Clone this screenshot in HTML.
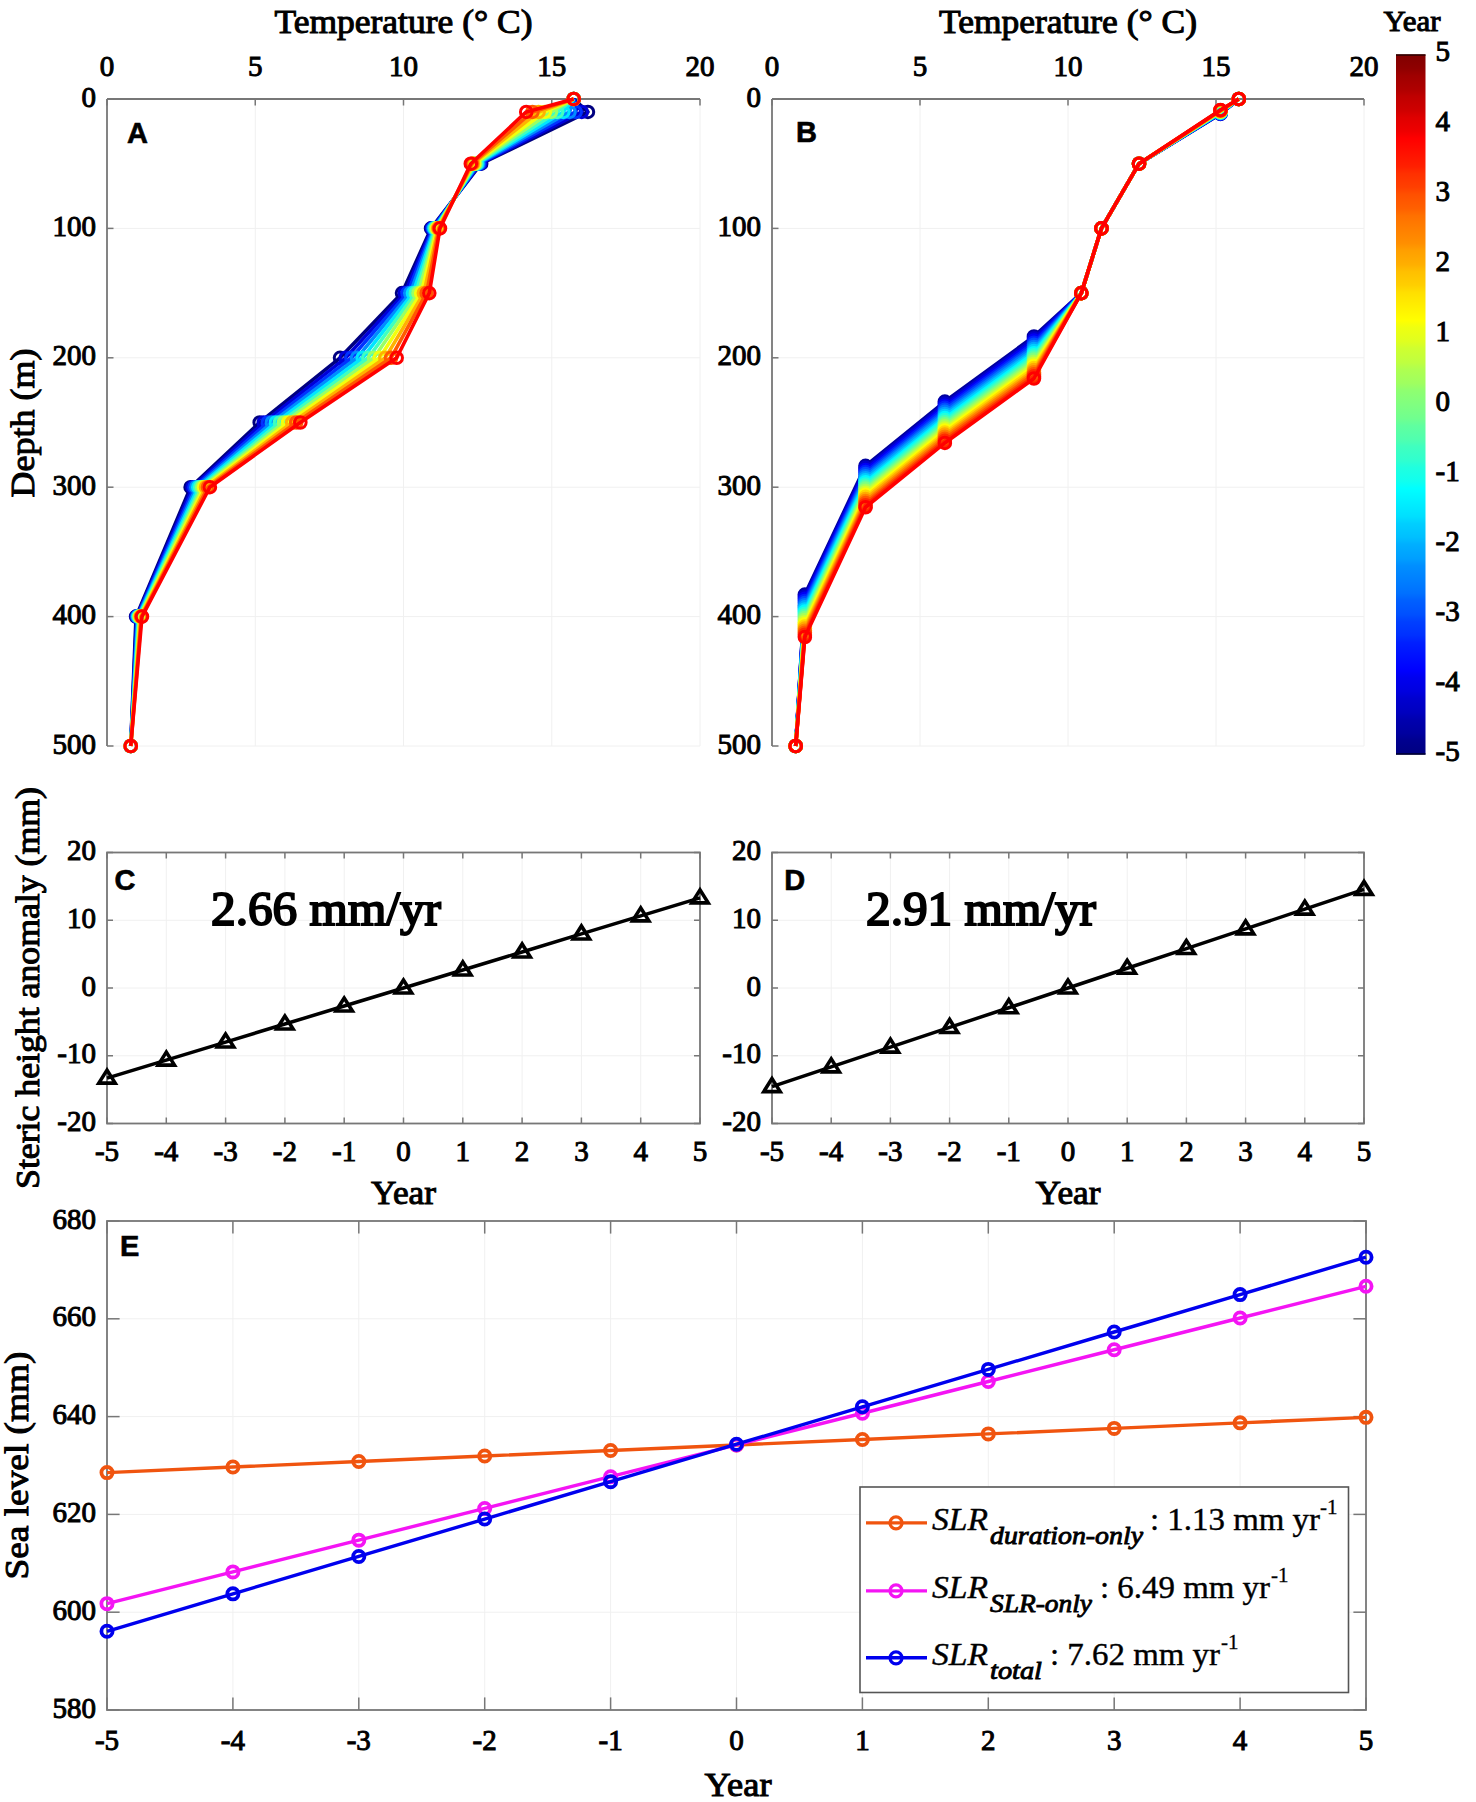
<!DOCTYPE html><html><head><meta charset="utf-8"><style>html,body{margin:0;padding:0;background:#fff;overflow:hidden}svg{display:block}</style></head><body>
<svg width="1476" height="1802" viewBox="0 0 1476 1802">
<rect width="1476" height="1802" fill="#fff"/>
<line x1="255.25" y1="99" x2="255.25" y2="746" stroke="#f0f0f0" stroke-width="1"/>
<line x1="403.5" y1="99" x2="403.5" y2="746" stroke="#f0f0f0" stroke-width="1"/>
<line x1="551.75" y1="99" x2="551.75" y2="746" stroke="#f0f0f0" stroke-width="1"/>
<line x1="700" y1="99" x2="700" y2="746" stroke="#f0f0f0" stroke-width="1"/>
<line x1="107" y1="228.4" x2="700" y2="228.4" stroke="#f0f0f0" stroke-width="1"/>
<line x1="107" y1="357.8" x2="700" y2="357.8" stroke="#f0f0f0" stroke-width="1"/>
<line x1="107" y1="487.2" x2="700" y2="487.2" stroke="#f0f0f0" stroke-width="1"/>
<line x1="107" y1="616.6" x2="700" y2="616.6" stroke="#f0f0f0" stroke-width="1"/>
<line x1="107" y1="746" x2="700" y2="746" stroke="#f0f0f0" stroke-width="1"/>
<line x1="107" y1="99" x2="700" y2="99" stroke="#777777" stroke-width="1.8"/>
<line x1="107" y1="99" x2="107" y2="746" stroke="#777777" stroke-width="1.8"/>
<line x1="107" y1="99" x2="107" y2="105.5" stroke="#777777" stroke-width="1.5"/>
<text x="107" y="75.5" font-size="29" text-anchor="middle" font-weight="normal" font-family='"Liberation Serif", serif' stroke="#000" stroke-width="1">0</text>
<line x1="255.25" y1="99" x2="255.25" y2="105.5" stroke="#777777" stroke-width="1.5"/>
<text x="255.25" y="75.5" font-size="29" text-anchor="middle" font-weight="normal" font-family='"Liberation Serif", serif' stroke="#000" stroke-width="1">5</text>
<line x1="403.5" y1="99" x2="403.5" y2="105.5" stroke="#777777" stroke-width="1.5"/>
<text x="403.5" y="75.5" font-size="29" text-anchor="middle" font-weight="normal" font-family='"Liberation Serif", serif' stroke="#000" stroke-width="1">10</text>
<line x1="551.75" y1="99" x2="551.75" y2="105.5" stroke="#777777" stroke-width="1.5"/>
<text x="551.75" y="75.5" font-size="29" text-anchor="middle" font-weight="normal" font-family='"Liberation Serif", serif' stroke="#000" stroke-width="1">15</text>
<line x1="700" y1="99" x2="700" y2="105.5" stroke="#777777" stroke-width="1.5"/>
<text x="700" y="75.5" font-size="29" text-anchor="middle" font-weight="normal" font-family='"Liberation Serif", serif' stroke="#000" stroke-width="1">20</text>
<line x1="107" y1="99" x2="113.5" y2="99" stroke="#777777" stroke-width="1.5"/>
<text x="96" y="106.5" font-size="29" text-anchor="end" font-weight="normal" font-family='"Liberation Serif", serif' stroke="#000" stroke-width="1">0</text>
<line x1="107" y1="228.4" x2="113.5" y2="228.4" stroke="#777777" stroke-width="1.5"/>
<text x="96" y="235.9" font-size="29" text-anchor="end" font-weight="normal" font-family='"Liberation Serif", serif' stroke="#000" stroke-width="1">100</text>
<line x1="107" y1="357.8" x2="113.5" y2="357.8" stroke="#777777" stroke-width="1.5"/>
<text x="96" y="365.3" font-size="29" text-anchor="end" font-weight="normal" font-family='"Liberation Serif", serif' stroke="#000" stroke-width="1">200</text>
<line x1="107" y1="487.2" x2="113.5" y2="487.2" stroke="#777777" stroke-width="1.5"/>
<text x="96" y="494.7" font-size="29" text-anchor="end" font-weight="normal" font-family='"Liberation Serif", serif' stroke="#000" stroke-width="1">300</text>
<line x1="107" y1="616.6" x2="113.5" y2="616.6" stroke="#777777" stroke-width="1.5"/>
<text x="96" y="624.1" font-size="29" text-anchor="end" font-weight="normal" font-family='"Liberation Serif", serif' stroke="#000" stroke-width="1">400</text>
<line x1="107" y1="746" x2="113.5" y2="746" stroke="#777777" stroke-width="1.5"/>
<text x="96" y="753.5" font-size="29" text-anchor="end" font-weight="normal" font-family='"Liberation Serif", serif' stroke="#000" stroke-width="1">500</text>
<g stroke="#000080" fill="none"><polyline points="573.69,99 587.92,111.94 481.18,163.7 431.07,228.4 402.02,293.1 340.05,357.8 259.7,422.5 190.61,487.2 136.06,616.6 130.72,746" stroke-width="3.6" stroke-linejoin="round"/>
<circle cx="573.69" cy="99" r="5.8" stroke-width="3"/>
<circle cx="587.92" cy="111.94" r="5.8" stroke-width="3"/>
<circle cx="481.18" cy="163.7" r="5.8" stroke-width="3"/>
<circle cx="431.07" cy="228.4" r="5.8" stroke-width="3"/>
<circle cx="402.02" cy="293.1" r="5.8" stroke-width="3"/>
<circle cx="340.05" cy="357.8" r="5.8" stroke-width="3"/>
<circle cx="259.7" cy="422.5" r="5.8" stroke-width="3"/>
<circle cx="190.61" cy="487.2" r="5.8" stroke-width="3"/>
<circle cx="136.06" cy="616.6" r="5.8" stroke-width="3"/>
<circle cx="130.72" cy="746" r="5.8" stroke-width="3"/>
</g>
<g stroke="#0000d9" fill="none"><polyline points="573.69,99 581.76,111.94 480.15,163.7 431.96,228.4 404.75,293.1 345.71,357.8 263.76,422.5 192.54,487.2 136.65,616.6 130.72,746" stroke-width="3.6" stroke-linejoin="round"/>
<circle cx="573.69" cy="99" r="5.8" stroke-width="3"/>
<circle cx="581.76" cy="111.94" r="5.8" stroke-width="3"/>
<circle cx="480.15" cy="163.7" r="5.8" stroke-width="3"/>
<circle cx="431.96" cy="228.4" r="5.8" stroke-width="3"/>
<circle cx="404.75" cy="293.1" r="5.8" stroke-width="3"/>
<circle cx="345.71" cy="357.8" r="5.8" stroke-width="3"/>
<circle cx="263.76" cy="422.5" r="5.8" stroke-width="3"/>
<circle cx="192.54" cy="487.2" r="5.8" stroke-width="3"/>
<circle cx="136.65" cy="616.6" r="5.8" stroke-width="3"/>
<circle cx="130.72" cy="746" r="5.8" stroke-width="3"/>
</g>
<g stroke="#0033ff" fill="none"><polyline points="573.69,99 575.59,111.94 479.11,163.7 432.85,228.4 407.47,293.1 351.38,357.8 267.82,422.5 194.47,487.2 137.24,616.6 130.72,746" stroke-width="3.6" stroke-linejoin="round"/>
<circle cx="573.69" cy="99" r="5.8" stroke-width="3"/>
<circle cx="575.59" cy="111.94" r="5.8" stroke-width="3"/>
<circle cx="479.11" cy="163.7" r="5.8" stroke-width="3"/>
<circle cx="432.85" cy="228.4" r="5.8" stroke-width="3"/>
<circle cx="407.47" cy="293.1" r="5.8" stroke-width="3"/>
<circle cx="351.38" cy="357.8" r="5.8" stroke-width="3"/>
<circle cx="267.82" cy="422.5" r="5.8" stroke-width="3"/>
<circle cx="194.47" cy="487.2" r="5.8" stroke-width="3"/>
<circle cx="137.24" cy="616.6" r="5.8" stroke-width="3"/>
<circle cx="130.72" cy="746" r="5.8" stroke-width="3"/>
</g>
<g stroke="#008cff" fill="none"><polyline points="573.69,99 569.42,111.94 478.07,163.7 433.74,228.4 410.2,293.1 357.04,357.8 271.88,422.5 196.39,487.2 137.84,616.6 130.72,746" stroke-width="3.6" stroke-linejoin="round"/>
<circle cx="573.69" cy="99" r="5.8" stroke-width="3"/>
<circle cx="569.42" cy="111.94" r="5.8" stroke-width="3"/>
<circle cx="478.07" cy="163.7" r="5.8" stroke-width="3"/>
<circle cx="433.74" cy="228.4" r="5.8" stroke-width="3"/>
<circle cx="410.2" cy="293.1" r="5.8" stroke-width="3"/>
<circle cx="357.04" cy="357.8" r="5.8" stroke-width="3"/>
<circle cx="271.88" cy="422.5" r="5.8" stroke-width="3"/>
<circle cx="196.39" cy="487.2" r="5.8" stroke-width="3"/>
<circle cx="137.84" cy="616.6" r="5.8" stroke-width="3"/>
<circle cx="130.72" cy="746" r="5.8" stroke-width="3"/>
</g>
<g stroke="#00e6ff" fill="none"><polyline points="573.69,99 563.25,111.94 477.03,163.7 434.63,228.4 412.93,293.1 362.7,357.8 275.95,422.5 198.32,487.2 138.43,616.6 130.72,746" stroke-width="3.6" stroke-linejoin="round"/>
<circle cx="573.69" cy="99" r="5.8" stroke-width="3"/>
<circle cx="563.25" cy="111.94" r="5.8" stroke-width="3"/>
<circle cx="477.03" cy="163.7" r="5.8" stroke-width="3"/>
<circle cx="434.63" cy="228.4" r="5.8" stroke-width="3"/>
<circle cx="412.93" cy="293.1" r="5.8" stroke-width="3"/>
<circle cx="362.7" cy="357.8" r="5.8" stroke-width="3"/>
<circle cx="275.95" cy="422.5" r="5.8" stroke-width="3"/>
<circle cx="198.32" cy="487.2" r="5.8" stroke-width="3"/>
<circle cx="138.43" cy="616.6" r="5.8" stroke-width="3"/>
<circle cx="130.72" cy="746" r="5.8" stroke-width="3"/>
</g>
<g stroke="#40ffbf" fill="none"><polyline points="573.69,99 557.09,111.94 475.99,163.7 435.52,228.4 415.66,293.1 368.36,357.8 280.01,422.5 200.25,487.2 139.02,616.6 130.72,746" stroke-width="3.6" stroke-linejoin="round"/>
<circle cx="573.69" cy="99" r="5.8" stroke-width="3"/>
<circle cx="557.09" cy="111.94" r="5.8" stroke-width="3"/>
<circle cx="475.99" cy="163.7" r="5.8" stroke-width="3"/>
<circle cx="435.52" cy="228.4" r="5.8" stroke-width="3"/>
<circle cx="415.66" cy="293.1" r="5.8" stroke-width="3"/>
<circle cx="368.36" cy="357.8" r="5.8" stroke-width="3"/>
<circle cx="280.01" cy="422.5" r="5.8" stroke-width="3"/>
<circle cx="200.25" cy="487.2" r="5.8" stroke-width="3"/>
<circle cx="139.02" cy="616.6" r="5.8" stroke-width="3"/>
<circle cx="130.72" cy="746" r="5.8" stroke-width="3"/>
</g>
<g stroke="#99ff66" fill="none"><polyline points="573.69,99 550.92,111.94 474.96,163.7 436.41,228.4 418.38,293.1 374.03,357.8 284.07,422.5 202.18,487.2 139.62,616.6 130.72,746" stroke-width="3.6" stroke-linejoin="round"/>
<circle cx="573.69" cy="99" r="5.8" stroke-width="3"/>
<circle cx="550.92" cy="111.94" r="5.8" stroke-width="3"/>
<circle cx="474.96" cy="163.7" r="5.8" stroke-width="3"/>
<circle cx="436.41" cy="228.4" r="5.8" stroke-width="3"/>
<circle cx="418.38" cy="293.1" r="5.8" stroke-width="3"/>
<circle cx="374.03" cy="357.8" r="5.8" stroke-width="3"/>
<circle cx="284.07" cy="422.5" r="5.8" stroke-width="3"/>
<circle cx="202.18" cy="487.2" r="5.8" stroke-width="3"/>
<circle cx="139.62" cy="616.6" r="5.8" stroke-width="3"/>
<circle cx="130.72" cy="746" r="5.8" stroke-width="3"/>
</g>
<g stroke="#f2ff0d" fill="none"><polyline points="573.69,99 544.75,111.94 473.92,163.7 437.3,228.4 421.11,293.1 379.69,357.8 288.13,422.5 204.1,487.2 140.21,616.6 130.72,746" stroke-width="3.6" stroke-linejoin="round"/>
<circle cx="573.69" cy="99" r="5.8" stroke-width="3"/>
<circle cx="544.75" cy="111.94" r="5.8" stroke-width="3"/>
<circle cx="473.92" cy="163.7" r="5.8" stroke-width="3"/>
<circle cx="437.3" cy="228.4" r="5.8" stroke-width="3"/>
<circle cx="421.11" cy="293.1" r="5.8" stroke-width="3"/>
<circle cx="379.69" cy="357.8" r="5.8" stroke-width="3"/>
<circle cx="288.13" cy="422.5" r="5.8" stroke-width="3"/>
<circle cx="204.1" cy="487.2" r="5.8" stroke-width="3"/>
<circle cx="140.21" cy="616.6" r="5.8" stroke-width="3"/>
<circle cx="130.72" cy="746" r="5.8" stroke-width="3"/>
</g>
<g stroke="#ffb200" fill="none"><polyline points="573.69,99 538.59,111.94 472.88,163.7 438.19,228.4 423.84,293.1 385.35,357.8 292.19,422.5 206.03,487.2 140.8,616.6 130.72,746" stroke-width="3.6" stroke-linejoin="round"/>
<circle cx="573.69" cy="99" r="5.8" stroke-width="3"/>
<circle cx="538.59" cy="111.94" r="5.8" stroke-width="3"/>
<circle cx="472.88" cy="163.7" r="5.8" stroke-width="3"/>
<circle cx="438.19" cy="228.4" r="5.8" stroke-width="3"/>
<circle cx="423.84" cy="293.1" r="5.8" stroke-width="3"/>
<circle cx="385.35" cy="357.8" r="5.8" stroke-width="3"/>
<circle cx="292.19" cy="422.5" r="5.8" stroke-width="3"/>
<circle cx="206.03" cy="487.2" r="5.8" stroke-width="3"/>
<circle cx="140.8" cy="616.6" r="5.8" stroke-width="3"/>
<circle cx="130.72" cy="746" r="5.8" stroke-width="3"/>
</g>
<g stroke="#ff5900" fill="none"><polyline points="573.69,99 532.42,111.94 471.84,163.7 439.08,228.4 426.57,293.1 391.02,357.8 296.26,422.5 207.96,487.2 141.39,616.6 130.72,746" stroke-width="3.6" stroke-linejoin="round"/>
<circle cx="573.69" cy="99" r="5.8" stroke-width="3"/>
<circle cx="532.42" cy="111.94" r="5.8" stroke-width="3"/>
<circle cx="471.84" cy="163.7" r="5.8" stroke-width="3"/>
<circle cx="439.08" cy="228.4" r="5.8" stroke-width="3"/>
<circle cx="426.57" cy="293.1" r="5.8" stroke-width="3"/>
<circle cx="391.02" cy="357.8" r="5.8" stroke-width="3"/>
<circle cx="296.26" cy="422.5" r="5.8" stroke-width="3"/>
<circle cx="207.96" cy="487.2" r="5.8" stroke-width="3"/>
<circle cx="141.39" cy="616.6" r="5.8" stroke-width="3"/>
<circle cx="130.72" cy="746" r="5.8" stroke-width="3"/>
</g>
<g stroke="#ff0000" fill="none"><polyline points="573.69,99 526.25,111.94 470.81,163.7 439.97,228.4 429.3,293.1 396.68,357.8 300.32,422.5 209.89,487.2 141.99,616.6 130.72,746" stroke-width="3.6" stroke-linejoin="round"/>
<circle cx="573.69" cy="99" r="5.8" stroke-width="3"/>
<circle cx="526.25" cy="111.94" r="5.8" stroke-width="3"/>
<circle cx="470.81" cy="163.7" r="5.8" stroke-width="3"/>
<circle cx="439.97" cy="228.4" r="5.8" stroke-width="3"/>
<circle cx="429.3" cy="293.1" r="5.8" stroke-width="3"/>
<circle cx="396.68" cy="357.8" r="5.8" stroke-width="3"/>
<circle cx="300.32" cy="422.5" r="5.8" stroke-width="3"/>
<circle cx="209.89" cy="487.2" r="5.8" stroke-width="3"/>
<circle cx="141.99" cy="616.6" r="5.8" stroke-width="3"/>
<circle cx="130.72" cy="746" r="5.8" stroke-width="3"/>
</g>
<text x="127" y="142.5" font-size="29" text-anchor="start" font-weight="bold" font-family='"Liberation Sans", sans-serif' stroke="#000" stroke-width="0.6">A</text>
<text x="403.5" y="32.5" font-size="33" text-anchor="middle" font-weight="normal" font-family='"Liberation Serif", serif' stroke="#000" stroke-width="1" textLength="258" lengthAdjust="spacingAndGlyphs">Temperature (° C)</text>
<line x1="920" y1="99" x2="920" y2="746" stroke="#f0f0f0" stroke-width="1"/>
<line x1="1068" y1="99" x2="1068" y2="746" stroke="#f0f0f0" stroke-width="1"/>
<line x1="1216" y1="99" x2="1216" y2="746" stroke="#f0f0f0" stroke-width="1"/>
<line x1="1364" y1="99" x2="1364" y2="746" stroke="#f0f0f0" stroke-width="1"/>
<line x1="772" y1="228.4" x2="1364" y2="228.4" stroke="#f0f0f0" stroke-width="1"/>
<line x1="772" y1="357.8" x2="1364" y2="357.8" stroke="#f0f0f0" stroke-width="1"/>
<line x1="772" y1="487.2" x2="1364" y2="487.2" stroke="#f0f0f0" stroke-width="1"/>
<line x1="772" y1="616.6" x2="1364" y2="616.6" stroke="#f0f0f0" stroke-width="1"/>
<line x1="772" y1="746" x2="1364" y2="746" stroke="#f0f0f0" stroke-width="1"/>
<line x1="772" y1="99" x2="1364" y2="99" stroke="#777777" stroke-width="1.8"/>
<line x1="772" y1="99" x2="772" y2="746" stroke="#777777" stroke-width="1.8"/>
<line x1="772" y1="99" x2="772" y2="105.5" stroke="#777777" stroke-width="1.5"/>
<text x="772" y="75.5" font-size="29" text-anchor="middle" font-weight="normal" font-family='"Liberation Serif", serif' stroke="#000" stroke-width="1">0</text>
<line x1="920" y1="99" x2="920" y2="105.5" stroke="#777777" stroke-width="1.5"/>
<text x="920" y="75.5" font-size="29" text-anchor="middle" font-weight="normal" font-family='"Liberation Serif", serif' stroke="#000" stroke-width="1">5</text>
<line x1="1068" y1="99" x2="1068" y2="105.5" stroke="#777777" stroke-width="1.5"/>
<text x="1068" y="75.5" font-size="29" text-anchor="middle" font-weight="normal" font-family='"Liberation Serif", serif' stroke="#000" stroke-width="1">10</text>
<line x1="1216" y1="99" x2="1216" y2="105.5" stroke="#777777" stroke-width="1.5"/>
<text x="1216" y="75.5" font-size="29" text-anchor="middle" font-weight="normal" font-family='"Liberation Serif", serif' stroke="#000" stroke-width="1">15</text>
<line x1="1364" y1="99" x2="1364" y2="105.5" stroke="#777777" stroke-width="1.5"/>
<text x="1364" y="75.5" font-size="29" text-anchor="middle" font-weight="normal" font-family='"Liberation Serif", serif' stroke="#000" stroke-width="1">20</text>
<line x1="772" y1="99" x2="778.5" y2="99" stroke="#777777" stroke-width="1.5"/>
<text x="761" y="106.5" font-size="29" text-anchor="end" font-weight="normal" font-family='"Liberation Serif", serif' stroke="#000" stroke-width="1">0</text>
<line x1="772" y1="228.4" x2="778.5" y2="228.4" stroke="#777777" stroke-width="1.5"/>
<text x="761" y="235.9" font-size="29" text-anchor="end" font-weight="normal" font-family='"Liberation Serif", serif' stroke="#000" stroke-width="1">100</text>
<line x1="772" y1="357.8" x2="778.5" y2="357.8" stroke="#777777" stroke-width="1.5"/>
<text x="761" y="365.3" font-size="29" text-anchor="end" font-weight="normal" font-family='"Liberation Serif", serif' stroke="#000" stroke-width="1">200</text>
<line x1="772" y1="487.2" x2="778.5" y2="487.2" stroke="#777777" stroke-width="1.5"/>
<text x="761" y="494.7" font-size="29" text-anchor="end" font-weight="normal" font-family='"Liberation Serif", serif' stroke="#000" stroke-width="1">300</text>
<line x1="772" y1="616.6" x2="778.5" y2="616.6" stroke="#777777" stroke-width="1.5"/>
<text x="761" y="624.1" font-size="29" text-anchor="end" font-weight="normal" font-family='"Liberation Serif", serif' stroke="#000" stroke-width="1">400</text>
<line x1="772" y1="746" x2="778.5" y2="746" stroke="#777777" stroke-width="1.5"/>
<text x="761" y="753.5" font-size="29" text-anchor="end" font-weight="normal" font-family='"Liberation Serif", serif' stroke="#000" stroke-width="1">500</text>
<g stroke="#00009e" fill="none"><polyline points="1238.79,99 1220.44,113.88 1139.04,163.7 1101.45,228.4 1081.32,293.1 1033.96,336.45 944.86,401.54 865.54,465.85 804.86,594.6 795.68,746" stroke-width="3.6" stroke-linejoin="round"/>
<circle cx="1238.79" cy="99" r="5.8" stroke-width="3"/>
<circle cx="1220.44" cy="113.88" r="5.8" stroke-width="3"/>
<circle cx="1139.04" cy="163.7" r="5.8" stroke-width="3"/>
<circle cx="1101.45" cy="228.4" r="5.8" stroke-width="3"/>
<circle cx="1081.32" cy="293.1" r="5.8" stroke-width="3"/>
<circle cx="1033.96" cy="336.45" r="5.8" stroke-width="3"/>
<circle cx="944.86" cy="401.54" r="5.8" stroke-width="3"/>
<circle cx="865.54" cy="465.85" r="5.8" stroke-width="3"/>
<circle cx="804.86" cy="594.6" r="5.8" stroke-width="3"/>
<circle cx="795.68" cy="746" r="5.8" stroke-width="3"/>
</g>
<g stroke="#0000c9" fill="none"><polyline points="1238.79,99 1220.44,113.69 1139.04,163.7 1101.45,228.4 1081.32,293.1 1033.96,338.55 944.86,403.61 865.54,467.92 804.86,596.72 795.68,746" stroke-width="3.6" stroke-linejoin="round"/>
<circle cx="1238.79" cy="99" r="5.8" stroke-width="3"/>
<circle cx="1220.44" cy="113.69" r="5.8" stroke-width="3"/>
<circle cx="1139.04" cy="163.7" r="5.8" stroke-width="3"/>
<circle cx="1101.45" cy="228.4" r="5.8" stroke-width="3"/>
<circle cx="1081.32" cy="293.1" r="5.8" stroke-width="3"/>
<circle cx="1033.96" cy="338.55" r="5.8" stroke-width="3"/>
<circle cx="944.86" cy="403.61" r="5.8" stroke-width="3"/>
<circle cx="865.54" cy="467.92" r="5.8" stroke-width="3"/>
<circle cx="804.86" cy="596.72" r="5.8" stroke-width="3"/>
<circle cx="795.68" cy="746" r="5.8" stroke-width="3"/>
</g>
<g stroke="#0000f4" fill="none"><polyline points="1238.79,99 1220.44,113.49 1139.04,163.7 1101.45,228.4 1081.32,293.1 1033.96,340.65 944.86,405.68 865.54,469.99 804.86,598.85 795.68,746" stroke-width="3.6" stroke-linejoin="round"/>
<circle cx="1238.79" cy="99" r="5.8" stroke-width="3"/>
<circle cx="1220.44" cy="113.49" r="5.8" stroke-width="3"/>
<circle cx="1139.04" cy="163.7" r="5.8" stroke-width="3"/>
<circle cx="1101.45" cy="228.4" r="5.8" stroke-width="3"/>
<circle cx="1081.32" cy="293.1" r="5.8" stroke-width="3"/>
<circle cx="1033.96" cy="340.65" r="5.8" stroke-width="3"/>
<circle cx="944.86" cy="405.68" r="5.8" stroke-width="3"/>
<circle cx="865.54" cy="469.99" r="5.8" stroke-width="3"/>
<circle cx="804.86" cy="598.85" r="5.8" stroke-width="3"/>
<circle cx="795.68" cy="746" r="5.8" stroke-width="3"/>
</g>
<g stroke="#0020ff" fill="none"><polyline points="1238.79,99 1220.44,113.3 1139.04,163.7 1101.45,228.4 1081.32,293.1 1033.96,342.76 944.86,407.75 865.54,472.06 804.86,600.97 795.68,746" stroke-width="3.6" stroke-linejoin="round"/>
<circle cx="1238.79" cy="99" r="5.8" stroke-width="3"/>
<circle cx="1220.44" cy="113.3" r="5.8" stroke-width="3"/>
<circle cx="1139.04" cy="163.7" r="5.8" stroke-width="3"/>
<circle cx="1101.45" cy="228.4" r="5.8" stroke-width="3"/>
<circle cx="1081.32" cy="293.1" r="5.8" stroke-width="3"/>
<circle cx="1033.96" cy="342.76" r="5.8" stroke-width="3"/>
<circle cx="944.86" cy="407.75" r="5.8" stroke-width="3"/>
<circle cx="865.54" cy="472.06" r="5.8" stroke-width="3"/>
<circle cx="804.86" cy="600.97" r="5.8" stroke-width="3"/>
<circle cx="795.68" cy="746" r="5.8" stroke-width="3"/>
</g>
<g stroke="#004bff" fill="none"><polyline points="1238.79,99 1220.44,113.1 1139.04,163.7 1101.45,228.4 1081.32,293.1 1033.96,344.86 944.86,409.82 865.54,474.13 804.86,603.09 795.68,746" stroke-width="3.6" stroke-linejoin="round"/>
<circle cx="1238.79" cy="99" r="5.8" stroke-width="3"/>
<circle cx="1220.44" cy="113.1" r="5.8" stroke-width="3"/>
<circle cx="1139.04" cy="163.7" r="5.8" stroke-width="3"/>
<circle cx="1101.45" cy="228.4" r="5.8" stroke-width="3"/>
<circle cx="1081.32" cy="293.1" r="5.8" stroke-width="3"/>
<circle cx="1033.96" cy="344.86" r="5.8" stroke-width="3"/>
<circle cx="944.86" cy="409.82" r="5.8" stroke-width="3"/>
<circle cx="865.54" cy="474.13" r="5.8" stroke-width="3"/>
<circle cx="804.86" cy="603.09" r="5.8" stroke-width="3"/>
<circle cx="795.68" cy="746" r="5.8" stroke-width="3"/>
</g>
<g stroke="#0077ff" fill="none"><polyline points="1238.79,99 1220.44,112.91 1139.04,163.7 1101.45,228.4 1081.32,293.1 1033.96,346.96 944.86,411.89 865.54,476.2 804.86,605.21 795.68,746" stroke-width="3.6" stroke-linejoin="round"/>
<circle cx="1238.79" cy="99" r="5.8" stroke-width="3"/>
<circle cx="1220.44" cy="112.91" r="5.8" stroke-width="3"/>
<circle cx="1139.04" cy="163.7" r="5.8" stroke-width="3"/>
<circle cx="1101.45" cy="228.4" r="5.8" stroke-width="3"/>
<circle cx="1081.32" cy="293.1" r="5.8" stroke-width="3"/>
<circle cx="1033.96" cy="346.96" r="5.8" stroke-width="3"/>
<circle cx="944.86" cy="411.89" r="5.8" stroke-width="3"/>
<circle cx="865.54" cy="476.2" r="5.8" stroke-width="3"/>
<circle cx="804.86" cy="605.21" r="5.8" stroke-width="3"/>
<circle cx="795.68" cy="746" r="5.8" stroke-width="3"/>
</g>
<g stroke="#00a2ff" fill="none"><polyline points="1238.79,99 1220.44,112.72 1139.04,163.7 1101.45,228.4 1081.32,293.1 1033.96,349.07 944.86,413.96 865.54,478.27 804.86,607.33 795.68,746" stroke-width="3.6" stroke-linejoin="round"/>
<circle cx="1238.79" cy="99" r="5.8" stroke-width="3"/>
<circle cx="1220.44" cy="112.72" r="5.8" stroke-width="3"/>
<circle cx="1139.04" cy="163.7" r="5.8" stroke-width="3"/>
<circle cx="1101.45" cy="228.4" r="5.8" stroke-width="3"/>
<circle cx="1081.32" cy="293.1" r="5.8" stroke-width="3"/>
<circle cx="1033.96" cy="349.07" r="5.8" stroke-width="3"/>
<circle cx="944.86" cy="413.96" r="5.8" stroke-width="3"/>
<circle cx="865.54" cy="478.27" r="5.8" stroke-width="3"/>
<circle cx="804.86" cy="607.33" r="5.8" stroke-width="3"/>
<circle cx="795.68" cy="746" r="5.8" stroke-width="3"/>
</g>
<g stroke="#00cdff" fill="none"><polyline points="1238.79,99 1220.44,112.52 1139.04,163.7 1101.45,228.4 1081.32,293.1 1033.96,351.17 944.86,416.03 865.54,480.34 804.86,609.46 795.68,746" stroke-width="3.6" stroke-linejoin="round"/>
<circle cx="1238.79" cy="99" r="5.8" stroke-width="3"/>
<circle cx="1220.44" cy="112.52" r="5.8" stroke-width="3"/>
<circle cx="1139.04" cy="163.7" r="5.8" stroke-width="3"/>
<circle cx="1101.45" cy="228.4" r="5.8" stroke-width="3"/>
<circle cx="1081.32" cy="293.1" r="5.8" stroke-width="3"/>
<circle cx="1033.96" cy="351.17" r="5.8" stroke-width="3"/>
<circle cx="944.86" cy="416.03" r="5.8" stroke-width="3"/>
<circle cx="865.54" cy="480.34" r="5.8" stroke-width="3"/>
<circle cx="804.86" cy="609.46" r="5.8" stroke-width="3"/>
<circle cx="795.68" cy="746" r="5.8" stroke-width="3"/>
</g>
<g stroke="#00f8ff" fill="none"><polyline points="1238.79,99 1220.44,112.33 1139.04,163.7 1101.45,228.4 1081.32,293.1 1033.96,353.27 944.86,418.1 865.54,482.41 804.86,611.58 795.68,746" stroke-width="3.6" stroke-linejoin="round"/>
<circle cx="1238.79" cy="99" r="5.8" stroke-width="3"/>
<circle cx="1220.44" cy="112.33" r="5.8" stroke-width="3"/>
<circle cx="1139.04" cy="163.7" r="5.8" stroke-width="3"/>
<circle cx="1101.45" cy="228.4" r="5.8" stroke-width="3"/>
<circle cx="1081.32" cy="293.1" r="5.8" stroke-width="3"/>
<circle cx="1033.96" cy="353.27" r="5.8" stroke-width="3"/>
<circle cx="944.86" cy="418.1" r="5.8" stroke-width="3"/>
<circle cx="865.54" cy="482.41" r="5.8" stroke-width="3"/>
<circle cx="804.86" cy="611.58" r="5.8" stroke-width="3"/>
<circle cx="795.68" cy="746" r="5.8" stroke-width="3"/>
</g>
<g stroke="#24ffdb" fill="none"><polyline points="1238.79,99 1220.44,112.13 1139.04,163.7 1101.45,228.4 1081.32,293.1 1033.96,355.37 944.86,420.17 865.54,484.48 804.86,613.7 795.68,746" stroke-width="3.6" stroke-linejoin="round"/>
<circle cx="1238.79" cy="99" r="5.8" stroke-width="3"/>
<circle cx="1220.44" cy="112.13" r="5.8" stroke-width="3"/>
<circle cx="1139.04" cy="163.7" r="5.8" stroke-width="3"/>
<circle cx="1101.45" cy="228.4" r="5.8" stroke-width="3"/>
<circle cx="1081.32" cy="293.1" r="5.8" stroke-width="3"/>
<circle cx="1033.96" cy="355.37" r="5.8" stroke-width="3"/>
<circle cx="944.86" cy="420.17" r="5.8" stroke-width="3"/>
<circle cx="865.54" cy="484.48" r="5.8" stroke-width="3"/>
<circle cx="804.86" cy="613.7" r="5.8" stroke-width="3"/>
<circle cx="795.68" cy="746" r="5.8" stroke-width="3"/>
</g>
<g stroke="#4fffb0" fill="none"><polyline points="1238.79,99 1220.44,111.94 1139.04,163.7 1101.45,228.4 1081.32,293.1 1033.96,357.48 944.86,422.24 865.54,486.55 804.86,615.82 795.68,746" stroke-width="3.6" stroke-linejoin="round"/>
<circle cx="1238.79" cy="99" r="5.8" stroke-width="3"/>
<circle cx="1220.44" cy="111.94" r="5.8" stroke-width="3"/>
<circle cx="1139.04" cy="163.7" r="5.8" stroke-width="3"/>
<circle cx="1101.45" cy="228.4" r="5.8" stroke-width="3"/>
<circle cx="1081.32" cy="293.1" r="5.8" stroke-width="3"/>
<circle cx="1033.96" cy="357.48" r="5.8" stroke-width="3"/>
<circle cx="944.86" cy="422.24" r="5.8" stroke-width="3"/>
<circle cx="865.54" cy="486.55" r="5.8" stroke-width="3"/>
<circle cx="804.86" cy="615.82" r="5.8" stroke-width="3"/>
<circle cx="795.68" cy="746" r="5.8" stroke-width="3"/>
</g>
<g stroke="#7aff85" fill="none"><polyline points="1238.79,99 1220.44,111.75 1139.04,163.7 1101.45,228.4 1081.32,293.1 1033.96,359.58 944.86,424.31 865.54,488.62 804.86,617.95 795.68,746" stroke-width="3.6" stroke-linejoin="round"/>
<circle cx="1238.79" cy="99" r="5.8" stroke-width="3"/>
<circle cx="1220.44" cy="111.75" r="5.8" stroke-width="3"/>
<circle cx="1139.04" cy="163.7" r="5.8" stroke-width="3"/>
<circle cx="1101.45" cy="228.4" r="5.8" stroke-width="3"/>
<circle cx="1081.32" cy="293.1" r="5.8" stroke-width="3"/>
<circle cx="1033.96" cy="359.58" r="5.8" stroke-width="3"/>
<circle cx="944.86" cy="424.31" r="5.8" stroke-width="3"/>
<circle cx="865.54" cy="488.62" r="5.8" stroke-width="3"/>
<circle cx="804.86" cy="617.95" r="5.8" stroke-width="3"/>
<circle cx="795.68" cy="746" r="5.8" stroke-width="3"/>
</g>
<g stroke="#a5ff5a" fill="none"><polyline points="1238.79,99 1220.44,111.55 1139.04,163.7 1101.45,228.4 1081.32,293.1 1033.96,361.68 944.86,426.38 865.54,490.69 804.86,620.07 795.68,746" stroke-width="3.6" stroke-linejoin="round"/>
<circle cx="1238.79" cy="99" r="5.8" stroke-width="3"/>
<circle cx="1220.44" cy="111.55" r="5.8" stroke-width="3"/>
<circle cx="1139.04" cy="163.7" r="5.8" stroke-width="3"/>
<circle cx="1101.45" cy="228.4" r="5.8" stroke-width="3"/>
<circle cx="1081.32" cy="293.1" r="5.8" stroke-width="3"/>
<circle cx="1033.96" cy="361.68" r="5.8" stroke-width="3"/>
<circle cx="944.86" cy="426.38" r="5.8" stroke-width="3"/>
<circle cx="865.54" cy="490.69" r="5.8" stroke-width="3"/>
<circle cx="804.86" cy="620.07" r="5.8" stroke-width="3"/>
<circle cx="795.68" cy="746" r="5.8" stroke-width="3"/>
</g>
<g stroke="#d0ff2f" fill="none"><polyline points="1238.79,99 1220.44,111.36 1139.04,163.7 1101.45,228.4 1081.32,293.1 1033.96,363.78 944.86,428.45 865.54,492.76 804.86,622.19 795.68,746" stroke-width="3.6" stroke-linejoin="round"/>
<circle cx="1238.79" cy="99" r="5.8" stroke-width="3"/>
<circle cx="1220.44" cy="111.36" r="5.8" stroke-width="3"/>
<circle cx="1139.04" cy="163.7" r="5.8" stroke-width="3"/>
<circle cx="1101.45" cy="228.4" r="5.8" stroke-width="3"/>
<circle cx="1081.32" cy="293.1" r="5.8" stroke-width="3"/>
<circle cx="1033.96" cy="363.78" r="5.8" stroke-width="3"/>
<circle cx="944.86" cy="428.45" r="5.8" stroke-width="3"/>
<circle cx="865.54" cy="492.76" r="5.8" stroke-width="3"/>
<circle cx="804.86" cy="622.19" r="5.8" stroke-width="3"/>
<circle cx="795.68" cy="746" r="5.8" stroke-width="3"/>
</g>
<g stroke="#fbff04" fill="none"><polyline points="1238.79,99 1220.44,111.16 1139.04,163.7 1101.45,228.4 1081.32,293.1 1033.96,365.89 944.86,430.52 865.54,494.83 804.86,624.31 795.68,746" stroke-width="3.6" stroke-linejoin="round"/>
<circle cx="1238.79" cy="99" r="5.8" stroke-width="3"/>
<circle cx="1220.44" cy="111.16" r="5.8" stroke-width="3"/>
<circle cx="1139.04" cy="163.7" r="5.8" stroke-width="3"/>
<circle cx="1101.45" cy="228.4" r="5.8" stroke-width="3"/>
<circle cx="1081.32" cy="293.1" r="5.8" stroke-width="3"/>
<circle cx="1033.96" cy="365.89" r="5.8" stroke-width="3"/>
<circle cx="944.86" cy="430.52" r="5.8" stroke-width="3"/>
<circle cx="865.54" cy="494.83" r="5.8" stroke-width="3"/>
<circle cx="804.86" cy="624.31" r="5.8" stroke-width="3"/>
<circle cx="795.68" cy="746" r="5.8" stroke-width="3"/>
</g>
<g stroke="#ffd700" fill="none"><polyline points="1238.79,99 1220.44,110.97 1139.04,163.7 1101.45,228.4 1081.32,293.1 1033.96,367.99 944.86,432.59 865.54,496.9 804.86,626.43 795.68,746" stroke-width="3.6" stroke-linejoin="round"/>
<circle cx="1238.79" cy="99" r="5.8" stroke-width="3"/>
<circle cx="1220.44" cy="110.97" r="5.8" stroke-width="3"/>
<circle cx="1139.04" cy="163.7" r="5.8" stroke-width="3"/>
<circle cx="1101.45" cy="228.4" r="5.8" stroke-width="3"/>
<circle cx="1081.32" cy="293.1" r="5.8" stroke-width="3"/>
<circle cx="1033.96" cy="367.99" r="5.8" stroke-width="3"/>
<circle cx="944.86" cy="432.59" r="5.8" stroke-width="3"/>
<circle cx="865.54" cy="496.9" r="5.8" stroke-width="3"/>
<circle cx="804.86" cy="626.43" r="5.8" stroke-width="3"/>
<circle cx="795.68" cy="746" r="5.8" stroke-width="3"/>
</g>
<g stroke="#ffac00" fill="none"><polyline points="1238.79,99 1220.44,110.78 1139.04,163.7 1101.45,228.4 1081.32,293.1 1033.96,370.09 944.86,434.66 865.54,498.98 804.86,628.56 795.68,746" stroke-width="3.6" stroke-linejoin="round"/>
<circle cx="1238.79" cy="99" r="5.8" stroke-width="3"/>
<circle cx="1220.44" cy="110.78" r="5.8" stroke-width="3"/>
<circle cx="1139.04" cy="163.7" r="5.8" stroke-width="3"/>
<circle cx="1101.45" cy="228.4" r="5.8" stroke-width="3"/>
<circle cx="1081.32" cy="293.1" r="5.8" stroke-width="3"/>
<circle cx="1033.96" cy="370.09" r="5.8" stroke-width="3"/>
<circle cx="944.86" cy="434.66" r="5.8" stroke-width="3"/>
<circle cx="865.54" cy="498.98" r="5.8" stroke-width="3"/>
<circle cx="804.86" cy="628.56" r="5.8" stroke-width="3"/>
<circle cx="795.68" cy="746" r="5.8" stroke-width="3"/>
</g>
<g stroke="#ff8100" fill="none"><polyline points="1238.79,99 1220.44,110.58 1139.04,163.7 1101.45,228.4 1081.32,293.1 1033.96,372.2 944.86,436.73 865.54,501.05 804.86,630.68 795.68,746" stroke-width="3.6" stroke-linejoin="round"/>
<circle cx="1238.79" cy="99" r="5.8" stroke-width="3"/>
<circle cx="1220.44" cy="110.58" r="5.8" stroke-width="3"/>
<circle cx="1139.04" cy="163.7" r="5.8" stroke-width="3"/>
<circle cx="1101.45" cy="228.4" r="5.8" stroke-width="3"/>
<circle cx="1081.32" cy="293.1" r="5.8" stroke-width="3"/>
<circle cx="1033.96" cy="372.2" r="5.8" stroke-width="3"/>
<circle cx="944.86" cy="436.73" r="5.8" stroke-width="3"/>
<circle cx="865.54" cy="501.05" r="5.8" stroke-width="3"/>
<circle cx="804.86" cy="630.68" r="5.8" stroke-width="3"/>
<circle cx="795.68" cy="746" r="5.8" stroke-width="3"/>
</g>
<g stroke="#ff5600" fill="none"><polyline points="1238.79,99 1220.44,110.39 1139.04,163.7 1101.45,228.4 1081.32,293.1 1033.96,374.3 944.86,438.8 865.54,503.12 804.86,632.8 795.68,746" stroke-width="3.6" stroke-linejoin="round"/>
<circle cx="1238.79" cy="99" r="5.8" stroke-width="3"/>
<circle cx="1220.44" cy="110.39" r="5.8" stroke-width="3"/>
<circle cx="1139.04" cy="163.7" r="5.8" stroke-width="3"/>
<circle cx="1101.45" cy="228.4" r="5.8" stroke-width="3"/>
<circle cx="1081.32" cy="293.1" r="5.8" stroke-width="3"/>
<circle cx="1033.96" cy="374.3" r="5.8" stroke-width="3"/>
<circle cx="944.86" cy="438.8" r="5.8" stroke-width="3"/>
<circle cx="865.54" cy="503.12" r="5.8" stroke-width="3"/>
<circle cx="804.86" cy="632.8" r="5.8" stroke-width="3"/>
<circle cx="795.68" cy="746" r="5.8" stroke-width="3"/>
</g>
<g stroke="#ff2b00" fill="none"><polyline points="1238.79,99 1220.44,110.19 1139.04,163.7 1101.45,228.4 1081.32,293.1 1033.96,376.4 944.86,440.87 865.54,505.19 804.86,634.92 795.68,746" stroke-width="3.6" stroke-linejoin="round"/>
<circle cx="1238.79" cy="99" r="5.8" stroke-width="3"/>
<circle cx="1220.44" cy="110.19" r="5.8" stroke-width="3"/>
<circle cx="1139.04" cy="163.7" r="5.8" stroke-width="3"/>
<circle cx="1101.45" cy="228.4" r="5.8" stroke-width="3"/>
<circle cx="1081.32" cy="293.1" r="5.8" stroke-width="3"/>
<circle cx="1033.96" cy="376.4" r="5.8" stroke-width="3"/>
<circle cx="944.86" cy="440.87" r="5.8" stroke-width="3"/>
<circle cx="865.54" cy="505.19" r="5.8" stroke-width="3"/>
<circle cx="804.86" cy="634.92" r="5.8" stroke-width="3"/>
<circle cx="795.68" cy="746" r="5.8" stroke-width="3"/>
</g>
<g stroke="#ff0000" fill="none"><polyline points="1238.79,99 1220.44,110 1139.04,163.7 1101.45,228.4 1081.32,293.1 1033.96,378.5 944.86,442.95 865.54,507.26 804.86,637.05 795.68,746" stroke-width="3.6" stroke-linejoin="round"/>
<circle cx="1238.79" cy="99" r="5.8" stroke-width="3"/>
<circle cx="1220.44" cy="110" r="5.8" stroke-width="3"/>
<circle cx="1139.04" cy="163.7" r="5.8" stroke-width="3"/>
<circle cx="1101.45" cy="228.4" r="5.8" stroke-width="3"/>
<circle cx="1081.32" cy="293.1" r="5.8" stroke-width="3"/>
<circle cx="1033.96" cy="378.5" r="5.8" stroke-width="3"/>
<circle cx="944.86" cy="442.95" r="5.8" stroke-width="3"/>
<circle cx="865.54" cy="507.26" r="5.8" stroke-width="3"/>
<circle cx="804.86" cy="637.05" r="5.8" stroke-width="3"/>
<circle cx="795.68" cy="746" r="5.8" stroke-width="3"/>
</g>
<text x="796" y="142.4" font-size="29" text-anchor="start" font-weight="bold" font-family='"Liberation Sans", sans-serif' stroke="#000" stroke-width="0.6">B</text>
<text x="1068" y="32.5" font-size="33" text-anchor="middle" font-weight="normal" font-family='"Liberation Serif", serif' stroke="#000" stroke-width="1" textLength="258" lengthAdjust="spacingAndGlyphs">Temperature (° C)</text>
<text transform="translate(33.5,423) rotate(-90)" x="0" y="0" font-size="33" text-anchor="middle" font-weight="normal" font-family='"Liberation Serif", serif' stroke="#000" stroke-width="1" textLength="149" lengthAdjust="spacingAndGlyphs">Depth (m)</text>
<defs><linearGradient id="jet" x1="0" y1="1" x2="0" y2="0">
<stop offset="0" stop-color="#000080"/>
<stop offset="0.02" stop-color="#00008f"/>
<stop offset="0.03" stop-color="#00009f"/>
<stop offset="0.05" stop-color="#0000af"/>
<stop offset="0.06" stop-color="#0000bf"/>
<stop offset="0.08" stop-color="#0000cf"/>
<stop offset="0.09" stop-color="#0000df"/>
<stop offset="0.11" stop-color="#0000ef"/>
<stop offset="0.12" stop-color="#0000ff"/>
<stop offset="0.14" stop-color="#0010ff"/>
<stop offset="0.16" stop-color="#0020ff"/>
<stop offset="0.17" stop-color="#0030ff"/>
<stop offset="0.19" stop-color="#0040ff"/>
<stop offset="0.2" stop-color="#0050ff"/>
<stop offset="0.22" stop-color="#0060ff"/>
<stop offset="0.23" stop-color="#0070ff"/>
<stop offset="0.25" stop-color="#0080ff"/>
<stop offset="0.27" stop-color="#008fff"/>
<stop offset="0.28" stop-color="#009fff"/>
<stop offset="0.3" stop-color="#00afff"/>
<stop offset="0.31" stop-color="#00bfff"/>
<stop offset="0.33" stop-color="#00cfff"/>
<stop offset="0.34" stop-color="#00dfff"/>
<stop offset="0.36" stop-color="#00efff"/>
<stop offset="0.38" stop-color="#00ffff"/>
<stop offset="0.39" stop-color="#10ffef"/>
<stop offset="0.41" stop-color="#20ffdf"/>
<stop offset="0.42" stop-color="#30ffcf"/>
<stop offset="0.44" stop-color="#40ffbf"/>
<stop offset="0.45" stop-color="#50ffaf"/>
<stop offset="0.47" stop-color="#60ff9f"/>
<stop offset="0.48" stop-color="#70ff8f"/>
<stop offset="0.5" stop-color="#80ff80"/>
<stop offset="0.52" stop-color="#8fff70"/>
<stop offset="0.53" stop-color="#9fff60"/>
<stop offset="0.55" stop-color="#afff50"/>
<stop offset="0.56" stop-color="#bfff40"/>
<stop offset="0.58" stop-color="#cfff30"/>
<stop offset="0.59" stop-color="#dfff20"/>
<stop offset="0.61" stop-color="#efff10"/>
<stop offset="0.62" stop-color="#ffff00"/>
<stop offset="0.64" stop-color="#ffef00"/>
<stop offset="0.66" stop-color="#ffdf00"/>
<stop offset="0.67" stop-color="#ffcf00"/>
<stop offset="0.69" stop-color="#ffbf00"/>
<stop offset="0.7" stop-color="#ffaf00"/>
<stop offset="0.72" stop-color="#ff9f00"/>
<stop offset="0.73" stop-color="#ff8f00"/>
<stop offset="0.75" stop-color="#ff8000"/>
<stop offset="0.77" stop-color="#ff7000"/>
<stop offset="0.78" stop-color="#ff6000"/>
<stop offset="0.8" stop-color="#ff5000"/>
<stop offset="0.81" stop-color="#ff4000"/>
<stop offset="0.83" stop-color="#ff3000"/>
<stop offset="0.84" stop-color="#ff2000"/>
<stop offset="0.86" stop-color="#ff1000"/>
<stop offset="0.88" stop-color="#ff0000"/>
<stop offset="0.89" stop-color="#ef0000"/>
<stop offset="0.91" stop-color="#df0000"/>
<stop offset="0.92" stop-color="#cf0000"/>
<stop offset="0.94" stop-color="#bf0000"/>
<stop offset="0.95" stop-color="#af0000"/>
<stop offset="0.97" stop-color="#9f0000"/>
<stop offset="0.98" stop-color="#8f0000"/>
<stop offset="1" stop-color="#800000"/>
</linearGradient></defs>
<rect x="1396" y="54.5" width="29.5" height="700.0" fill="url(#jet)" stroke="none"/>
<line x1="1396" y1="55" x2="1425.5" y2="55" stroke="#2a0000" stroke-width="1.5"/>
<line x1="1396" y1="754" x2="1425.5" y2="754" stroke="#00002a" stroke-width="1.5"/>
<text x="1435.5" y="761" font-size="29" text-anchor="start" font-weight="normal" font-family='"Liberation Serif", serif' stroke="#000" stroke-width="1">-5</text>
<text x="1435.5" y="691" font-size="29" text-anchor="start" font-weight="normal" font-family='"Liberation Serif", serif' stroke="#000" stroke-width="1">-4</text>
<text x="1435.5" y="621" font-size="29" text-anchor="start" font-weight="normal" font-family='"Liberation Serif", serif' stroke="#000" stroke-width="1">-3</text>
<text x="1435.5" y="551" font-size="29" text-anchor="start" font-weight="normal" font-family='"Liberation Serif", serif' stroke="#000" stroke-width="1">-2</text>
<text x="1435.5" y="481" font-size="29" text-anchor="start" font-weight="normal" font-family='"Liberation Serif", serif' stroke="#000" stroke-width="1">-1</text>
<text x="1435.5" y="411" font-size="29" text-anchor="start" font-weight="normal" font-family='"Liberation Serif", serif' stroke="#000" stroke-width="1">0</text>
<text x="1435.5" y="341" font-size="29" text-anchor="start" font-weight="normal" font-family='"Liberation Serif", serif' stroke="#000" stroke-width="1">1</text>
<text x="1435.5" y="271" font-size="29" text-anchor="start" font-weight="normal" font-family='"Liberation Serif", serif' stroke="#000" stroke-width="1">2</text>
<text x="1435.5" y="201" font-size="29" text-anchor="start" font-weight="normal" font-family='"Liberation Serif", serif' stroke="#000" stroke-width="1">3</text>
<text x="1435.5" y="131" font-size="29" text-anchor="start" font-weight="normal" font-family='"Liberation Serif", serif' stroke="#000" stroke-width="1">4</text>
<text x="1435.5" y="61" font-size="29" text-anchor="start" font-weight="normal" font-family='"Liberation Serif", serif' stroke="#000" stroke-width="1">5</text>
<text x="1412" y="30.5" font-size="29" text-anchor="middle" font-weight="normal" font-family='"Liberation Serif", serif' stroke="#000" stroke-width="1" textLength="57" lengthAdjust="spacingAndGlyphs">Year</text>
<line x1="166.3" y1="852.5" x2="166.3" y2="1123.5" stroke="#f0f0f0" stroke-width="1"/>
<line x1="225.6" y1="852.5" x2="225.6" y2="1123.5" stroke="#f0f0f0" stroke-width="1"/>
<line x1="284.9" y1="852.5" x2="284.9" y2="1123.5" stroke="#f0f0f0" stroke-width="1"/>
<line x1="344.2" y1="852.5" x2="344.2" y2="1123.5" stroke="#f0f0f0" stroke-width="1"/>
<line x1="403.5" y1="852.5" x2="403.5" y2="1123.5" stroke="#f0f0f0" stroke-width="1"/>
<line x1="462.8" y1="852.5" x2="462.8" y2="1123.5" stroke="#f0f0f0" stroke-width="1"/>
<line x1="522.1" y1="852.5" x2="522.1" y2="1123.5" stroke="#f0f0f0" stroke-width="1"/>
<line x1="581.4" y1="852.5" x2="581.4" y2="1123.5" stroke="#f0f0f0" stroke-width="1"/>
<line x1="640.7" y1="852.5" x2="640.7" y2="1123.5" stroke="#f0f0f0" stroke-width="1"/>
<line x1="107" y1="1055.75" x2="700" y2="1055.75" stroke="#f0f0f0" stroke-width="1"/>
<line x1="107" y1="988" x2="700" y2="988" stroke="#f0f0f0" stroke-width="1"/>
<line x1="107" y1="920.25" x2="700" y2="920.25" stroke="#f0f0f0" stroke-width="1"/>
<rect x="107" y="852.5" width="593" height="271.0" fill="none" stroke="#777777" stroke-width="1.8"/>
<line x1="107" y1="1123.5" x2="107" y2="1117.5" stroke="#777777" stroke-width="1.5"/>
<line x1="107" y1="852.5" x2="107" y2="858.5" stroke="#777777" stroke-width="1.5"/>
<text x="107" y="1161" font-size="29" text-anchor="middle" font-weight="normal" font-family='"Liberation Serif", serif' stroke="#000" stroke-width="1">-5</text>
<line x1="166.3" y1="1123.5" x2="166.3" y2="1117.5" stroke="#777777" stroke-width="1.5"/>
<line x1="166.3" y1="852.5" x2="166.3" y2="858.5" stroke="#777777" stroke-width="1.5"/>
<text x="166.3" y="1161" font-size="29" text-anchor="middle" font-weight="normal" font-family='"Liberation Serif", serif' stroke="#000" stroke-width="1">-4</text>
<line x1="225.6" y1="1123.5" x2="225.6" y2="1117.5" stroke="#777777" stroke-width="1.5"/>
<line x1="225.6" y1="852.5" x2="225.6" y2="858.5" stroke="#777777" stroke-width="1.5"/>
<text x="225.6" y="1161" font-size="29" text-anchor="middle" font-weight="normal" font-family='"Liberation Serif", serif' stroke="#000" stroke-width="1">-3</text>
<line x1="284.9" y1="1123.5" x2="284.9" y2="1117.5" stroke="#777777" stroke-width="1.5"/>
<line x1="284.9" y1="852.5" x2="284.9" y2="858.5" stroke="#777777" stroke-width="1.5"/>
<text x="284.9" y="1161" font-size="29" text-anchor="middle" font-weight="normal" font-family='"Liberation Serif", serif' stroke="#000" stroke-width="1">-2</text>
<line x1="344.2" y1="1123.5" x2="344.2" y2="1117.5" stroke="#777777" stroke-width="1.5"/>
<line x1="344.2" y1="852.5" x2="344.2" y2="858.5" stroke="#777777" stroke-width="1.5"/>
<text x="344.2" y="1161" font-size="29" text-anchor="middle" font-weight="normal" font-family='"Liberation Serif", serif' stroke="#000" stroke-width="1">-1</text>
<line x1="403.5" y1="1123.5" x2="403.5" y2="1117.5" stroke="#777777" stroke-width="1.5"/>
<line x1="403.5" y1="852.5" x2="403.5" y2="858.5" stroke="#777777" stroke-width="1.5"/>
<text x="403.5" y="1161" font-size="29" text-anchor="middle" font-weight="normal" font-family='"Liberation Serif", serif' stroke="#000" stroke-width="1">0</text>
<line x1="462.8" y1="1123.5" x2="462.8" y2="1117.5" stroke="#777777" stroke-width="1.5"/>
<line x1="462.8" y1="852.5" x2="462.8" y2="858.5" stroke="#777777" stroke-width="1.5"/>
<text x="462.8" y="1161" font-size="29" text-anchor="middle" font-weight="normal" font-family='"Liberation Serif", serif' stroke="#000" stroke-width="1">1</text>
<line x1="522.1" y1="1123.5" x2="522.1" y2="1117.5" stroke="#777777" stroke-width="1.5"/>
<line x1="522.1" y1="852.5" x2="522.1" y2="858.5" stroke="#777777" stroke-width="1.5"/>
<text x="522.1" y="1161" font-size="29" text-anchor="middle" font-weight="normal" font-family='"Liberation Serif", serif' stroke="#000" stroke-width="1">2</text>
<line x1="581.4" y1="1123.5" x2="581.4" y2="1117.5" stroke="#777777" stroke-width="1.5"/>
<line x1="581.4" y1="852.5" x2="581.4" y2="858.5" stroke="#777777" stroke-width="1.5"/>
<text x="581.4" y="1161" font-size="29" text-anchor="middle" font-weight="normal" font-family='"Liberation Serif", serif' stroke="#000" stroke-width="1">3</text>
<line x1="640.7" y1="1123.5" x2="640.7" y2="1117.5" stroke="#777777" stroke-width="1.5"/>
<line x1="640.7" y1="852.5" x2="640.7" y2="858.5" stroke="#777777" stroke-width="1.5"/>
<text x="640.7" y="1161" font-size="29" text-anchor="middle" font-weight="normal" font-family='"Liberation Serif", serif' stroke="#000" stroke-width="1">4</text>
<line x1="700" y1="1123.5" x2="700" y2="1117.5" stroke="#777777" stroke-width="1.5"/>
<line x1="700" y1="852.5" x2="700" y2="858.5" stroke="#777777" stroke-width="1.5"/>
<text x="700" y="1161" font-size="29" text-anchor="middle" font-weight="normal" font-family='"Liberation Serif", serif' stroke="#000" stroke-width="1">5</text>
<line x1="107" y1="1123.5" x2="113" y2="1123.5" stroke="#777777" stroke-width="1.5"/>
<line x1="700" y1="1123.5" x2="694" y2="1123.5" stroke="#777777" stroke-width="1.5"/>
<text x="96" y="1131" font-size="29" text-anchor="end" font-weight="normal" font-family='"Liberation Serif", serif' stroke="#000" stroke-width="1">-20</text>
<line x1="107" y1="1055.75" x2="113" y2="1055.75" stroke="#777777" stroke-width="1.5"/>
<line x1="700" y1="1055.75" x2="694" y2="1055.75" stroke="#777777" stroke-width="1.5"/>
<text x="96" y="1063.25" font-size="29" text-anchor="end" font-weight="normal" font-family='"Liberation Serif", serif' stroke="#000" stroke-width="1">-10</text>
<line x1="107" y1="988" x2="113" y2="988" stroke="#777777" stroke-width="1.5"/>
<line x1="700" y1="988" x2="694" y2="988" stroke="#777777" stroke-width="1.5"/>
<text x="96" y="995.5" font-size="29" text-anchor="end" font-weight="normal" font-family='"Liberation Serif", serif' stroke="#000" stroke-width="1">0</text>
<line x1="107" y1="920.25" x2="113" y2="920.25" stroke="#777777" stroke-width="1.5"/>
<line x1="700" y1="920.25" x2="694" y2="920.25" stroke="#777777" stroke-width="1.5"/>
<text x="96" y="927.75" font-size="29" text-anchor="end" font-weight="normal" font-family='"Liberation Serif", serif' stroke="#000" stroke-width="1">10</text>
<line x1="107" y1="852.5" x2="113" y2="852.5" stroke="#777777" stroke-width="1.5"/>
<line x1="700" y1="852.5" x2="694" y2="852.5" stroke="#777777" stroke-width="1.5"/>
<text x="96" y="860" font-size="29" text-anchor="end" font-weight="normal" font-family='"Liberation Serif", serif' stroke="#000" stroke-width="1">20</text>
<polyline points="107,1078.11 166.3,1060.09 225.6,1042.06 284.9,1024.04 344.2,1006.02 403.5,988 462.8,969.98 522.1,951.96 581.4,933.94 640.7,915.91 700,897.89" fill="none" stroke="#000" stroke-width="3.5"/>
<path d="M107,1070.11 L98.8,1083.11 L115.2,1083.11 Z" fill="none" stroke="#000" stroke-width="3.6" stroke-linejoin="miter"/>
<path d="M166.3,1052.09 L158.1,1065.09 L174.5,1065.09 Z" fill="none" stroke="#000" stroke-width="3.6" stroke-linejoin="miter"/>
<path d="M225.6,1034.06 L217.4,1047.06 L233.8,1047.06 Z" fill="none" stroke="#000" stroke-width="3.6" stroke-linejoin="miter"/>
<path d="M284.9,1016.04 L276.7,1029.04 L293.1,1029.04 Z" fill="none" stroke="#000" stroke-width="3.6" stroke-linejoin="miter"/>
<path d="M344.2,998.02 L336,1011.02 L352.4,1011.02 Z" fill="none" stroke="#000" stroke-width="3.6" stroke-linejoin="miter"/>
<path d="M403.5,980 L395.3,993 L411.7,993 Z" fill="none" stroke="#000" stroke-width="3.6" stroke-linejoin="miter"/>
<path d="M462.8,961.98 L454.6,974.98 L471,974.98 Z" fill="none" stroke="#000" stroke-width="3.6" stroke-linejoin="miter"/>
<path d="M522.1,943.96 L513.9,956.96 L530.3,956.96 Z" fill="none" stroke="#000" stroke-width="3.6" stroke-linejoin="miter"/>
<path d="M581.4,925.94 L573.2,938.94 L589.6,938.94 Z" fill="none" stroke="#000" stroke-width="3.6" stroke-linejoin="miter"/>
<path d="M640.7,907.91 L632.5,920.91 L648.9,920.91 Z" fill="none" stroke="#000" stroke-width="3.6" stroke-linejoin="miter"/>
<path d="M700,889.89 L691.8,902.89 L708.2,902.89 Z" fill="none" stroke="#000" stroke-width="3.6" stroke-linejoin="miter"/>
<text x="114.5" y="889.5" font-size="29" text-anchor="start" font-weight="bold" font-family='"Liberation Sans", sans-serif' stroke="#000" stroke-width="0.6">C</text>
<text x="211" y="924.5" font-size="48" text-anchor="start" font-weight="normal" font-family='"Liberation Serif", serif' textLength="230" lengthAdjust="spacingAndGlyphs" stroke="#000" stroke-width="2">2.66 mm/yr</text>
<text x="403.5" y="1203.5" font-size="33" text-anchor="middle" font-weight="normal" font-family='"Liberation Serif", serif' stroke="#000" stroke-width="1" textLength="65" lengthAdjust="spacingAndGlyphs">Year</text>
<line x1="831.2" y1="852.5" x2="831.2" y2="1123.5" stroke="#f0f0f0" stroke-width="1"/>
<line x1="890.4" y1="852.5" x2="890.4" y2="1123.5" stroke="#f0f0f0" stroke-width="1"/>
<line x1="949.6" y1="852.5" x2="949.6" y2="1123.5" stroke="#f0f0f0" stroke-width="1"/>
<line x1="1008.8" y1="852.5" x2="1008.8" y2="1123.5" stroke="#f0f0f0" stroke-width="1"/>
<line x1="1068" y1="852.5" x2="1068" y2="1123.5" stroke="#f0f0f0" stroke-width="1"/>
<line x1="1127.2" y1="852.5" x2="1127.2" y2="1123.5" stroke="#f0f0f0" stroke-width="1"/>
<line x1="1186.4" y1="852.5" x2="1186.4" y2="1123.5" stroke="#f0f0f0" stroke-width="1"/>
<line x1="1245.6" y1="852.5" x2="1245.6" y2="1123.5" stroke="#f0f0f0" stroke-width="1"/>
<line x1="1304.8" y1="852.5" x2="1304.8" y2="1123.5" stroke="#f0f0f0" stroke-width="1"/>
<line x1="772" y1="1055.75" x2="1364" y2="1055.75" stroke="#f0f0f0" stroke-width="1"/>
<line x1="772" y1="988" x2="1364" y2="988" stroke="#f0f0f0" stroke-width="1"/>
<line x1="772" y1="920.25" x2="1364" y2="920.25" stroke="#f0f0f0" stroke-width="1"/>
<rect x="772" y="852.5" width="592" height="271.0" fill="none" stroke="#777777" stroke-width="1.8"/>
<line x1="772" y1="1123.5" x2="772" y2="1117.5" stroke="#777777" stroke-width="1.5"/>
<line x1="772" y1="852.5" x2="772" y2="858.5" stroke="#777777" stroke-width="1.5"/>
<text x="772" y="1161" font-size="29" text-anchor="middle" font-weight="normal" font-family='"Liberation Serif", serif' stroke="#000" stroke-width="1">-5</text>
<line x1="831.2" y1="1123.5" x2="831.2" y2="1117.5" stroke="#777777" stroke-width="1.5"/>
<line x1="831.2" y1="852.5" x2="831.2" y2="858.5" stroke="#777777" stroke-width="1.5"/>
<text x="831.2" y="1161" font-size="29" text-anchor="middle" font-weight="normal" font-family='"Liberation Serif", serif' stroke="#000" stroke-width="1">-4</text>
<line x1="890.4" y1="1123.5" x2="890.4" y2="1117.5" stroke="#777777" stroke-width="1.5"/>
<line x1="890.4" y1="852.5" x2="890.4" y2="858.5" stroke="#777777" stroke-width="1.5"/>
<text x="890.4" y="1161" font-size="29" text-anchor="middle" font-weight="normal" font-family='"Liberation Serif", serif' stroke="#000" stroke-width="1">-3</text>
<line x1="949.6" y1="1123.5" x2="949.6" y2="1117.5" stroke="#777777" stroke-width="1.5"/>
<line x1="949.6" y1="852.5" x2="949.6" y2="858.5" stroke="#777777" stroke-width="1.5"/>
<text x="949.6" y="1161" font-size="29" text-anchor="middle" font-weight="normal" font-family='"Liberation Serif", serif' stroke="#000" stroke-width="1">-2</text>
<line x1="1008.8" y1="1123.5" x2="1008.8" y2="1117.5" stroke="#777777" stroke-width="1.5"/>
<line x1="1008.8" y1="852.5" x2="1008.8" y2="858.5" stroke="#777777" stroke-width="1.5"/>
<text x="1008.8" y="1161" font-size="29" text-anchor="middle" font-weight="normal" font-family='"Liberation Serif", serif' stroke="#000" stroke-width="1">-1</text>
<line x1="1068" y1="1123.5" x2="1068" y2="1117.5" stroke="#777777" stroke-width="1.5"/>
<line x1="1068" y1="852.5" x2="1068" y2="858.5" stroke="#777777" stroke-width="1.5"/>
<text x="1068" y="1161" font-size="29" text-anchor="middle" font-weight="normal" font-family='"Liberation Serif", serif' stroke="#000" stroke-width="1">0</text>
<line x1="1127.2" y1="1123.5" x2="1127.2" y2="1117.5" stroke="#777777" stroke-width="1.5"/>
<line x1="1127.2" y1="852.5" x2="1127.2" y2="858.5" stroke="#777777" stroke-width="1.5"/>
<text x="1127.2" y="1161" font-size="29" text-anchor="middle" font-weight="normal" font-family='"Liberation Serif", serif' stroke="#000" stroke-width="1">1</text>
<line x1="1186.4" y1="1123.5" x2="1186.4" y2="1117.5" stroke="#777777" stroke-width="1.5"/>
<line x1="1186.4" y1="852.5" x2="1186.4" y2="858.5" stroke="#777777" stroke-width="1.5"/>
<text x="1186.4" y="1161" font-size="29" text-anchor="middle" font-weight="normal" font-family='"Liberation Serif", serif' stroke="#000" stroke-width="1">2</text>
<line x1="1245.6" y1="1123.5" x2="1245.6" y2="1117.5" stroke="#777777" stroke-width="1.5"/>
<line x1="1245.6" y1="852.5" x2="1245.6" y2="858.5" stroke="#777777" stroke-width="1.5"/>
<text x="1245.6" y="1161" font-size="29" text-anchor="middle" font-weight="normal" font-family='"Liberation Serif", serif' stroke="#000" stroke-width="1">3</text>
<line x1="1304.8" y1="1123.5" x2="1304.8" y2="1117.5" stroke="#777777" stroke-width="1.5"/>
<line x1="1304.8" y1="852.5" x2="1304.8" y2="858.5" stroke="#777777" stroke-width="1.5"/>
<text x="1304.8" y="1161" font-size="29" text-anchor="middle" font-weight="normal" font-family='"Liberation Serif", serif' stroke="#000" stroke-width="1">4</text>
<line x1="1364" y1="1123.5" x2="1364" y2="1117.5" stroke="#777777" stroke-width="1.5"/>
<line x1="1364" y1="852.5" x2="1364" y2="858.5" stroke="#777777" stroke-width="1.5"/>
<text x="1364" y="1161" font-size="29" text-anchor="middle" font-weight="normal" font-family='"Liberation Serif", serif' stroke="#000" stroke-width="1">5</text>
<line x1="772" y1="1123.5" x2="778" y2="1123.5" stroke="#777777" stroke-width="1.5"/>
<line x1="1364" y1="1123.5" x2="1358" y2="1123.5" stroke="#777777" stroke-width="1.5"/>
<text x="761" y="1131" font-size="29" text-anchor="end" font-weight="normal" font-family='"Liberation Serif", serif' stroke="#000" stroke-width="1">-20</text>
<line x1="772" y1="1055.75" x2="778" y2="1055.75" stroke="#777777" stroke-width="1.5"/>
<line x1="1364" y1="1055.75" x2="1358" y2="1055.75" stroke="#777777" stroke-width="1.5"/>
<text x="761" y="1063.25" font-size="29" text-anchor="end" font-weight="normal" font-family='"Liberation Serif", serif' stroke="#000" stroke-width="1">-10</text>
<line x1="772" y1="988" x2="778" y2="988" stroke="#777777" stroke-width="1.5"/>
<line x1="1364" y1="988" x2="1358" y2="988" stroke="#777777" stroke-width="1.5"/>
<text x="761" y="995.5" font-size="29" text-anchor="end" font-weight="normal" font-family='"Liberation Serif", serif' stroke="#000" stroke-width="1">0</text>
<line x1="772" y1="920.25" x2="778" y2="920.25" stroke="#777777" stroke-width="1.5"/>
<line x1="1364" y1="920.25" x2="1358" y2="920.25" stroke="#777777" stroke-width="1.5"/>
<text x="761" y="927.75" font-size="29" text-anchor="end" font-weight="normal" font-family='"Liberation Serif", serif' stroke="#000" stroke-width="1">10</text>
<line x1="772" y1="852.5" x2="778" y2="852.5" stroke="#777777" stroke-width="1.5"/>
<line x1="1364" y1="852.5" x2="1358" y2="852.5" stroke="#777777" stroke-width="1.5"/>
<text x="761" y="860" font-size="29" text-anchor="end" font-weight="normal" font-family='"Liberation Serif", serif' stroke="#000" stroke-width="1">20</text>
<polyline points="772,1086.58 831.2,1066.86 890.4,1047.15 949.6,1027.43 1008.8,1007.72 1068,988 1127.2,968.28 1186.4,948.57 1245.6,928.85 1304.8,909.14 1364,889.42" fill="none" stroke="#000" stroke-width="3.5"/>
<path d="M772,1078.58 L763.8,1091.58 L780.2,1091.58 Z" fill="none" stroke="#000" stroke-width="3.6" stroke-linejoin="miter"/>
<path d="M831.2,1058.86 L823,1071.86 L839.4,1071.86 Z" fill="none" stroke="#000" stroke-width="3.6" stroke-linejoin="miter"/>
<path d="M890.4,1039.15 L882.2,1052.15 L898.6,1052.15 Z" fill="none" stroke="#000" stroke-width="3.6" stroke-linejoin="miter"/>
<path d="M949.6,1019.43 L941.4,1032.43 L957.8,1032.43 Z" fill="none" stroke="#000" stroke-width="3.6" stroke-linejoin="miter"/>
<path d="M1008.8,999.72 L1000.6,1012.72 L1017,1012.72 Z" fill="none" stroke="#000" stroke-width="3.6" stroke-linejoin="miter"/>
<path d="M1068,980 L1059.8,993 L1076.2,993 Z" fill="none" stroke="#000" stroke-width="3.6" stroke-linejoin="miter"/>
<path d="M1127.2,960.28 L1119,973.28 L1135.4,973.28 Z" fill="none" stroke="#000" stroke-width="3.6" stroke-linejoin="miter"/>
<path d="M1186.4,940.57 L1178.2,953.57 L1194.6,953.57 Z" fill="none" stroke="#000" stroke-width="3.6" stroke-linejoin="miter"/>
<path d="M1245.6,920.85 L1237.4,933.85 L1253.8,933.85 Z" fill="none" stroke="#000" stroke-width="3.6" stroke-linejoin="miter"/>
<path d="M1304.8,901.14 L1296.6,914.14 L1313,914.14 Z" fill="none" stroke="#000" stroke-width="3.6" stroke-linejoin="miter"/>
<path d="M1364,881.42 L1355.8,894.42 L1372.2,894.42 Z" fill="none" stroke="#000" stroke-width="3.6" stroke-linejoin="miter"/>
<text x="784.2" y="890.1" font-size="29" text-anchor="start" font-weight="bold" font-family='"Liberation Sans", sans-serif' stroke="#000" stroke-width="0.6">D</text>
<text x="866" y="924.5" font-size="48" text-anchor="start" font-weight="normal" font-family='"Liberation Serif", serif' textLength="230" lengthAdjust="spacingAndGlyphs" stroke="#000" stroke-width="2">2.91 mm/yr</text>
<text x="1068" y="1203.5" font-size="33" text-anchor="middle" font-weight="normal" font-family='"Liberation Serif", serif' stroke="#000" stroke-width="1" textLength="65" lengthAdjust="spacingAndGlyphs">Year</text>
<text transform="translate(38.5,988) rotate(-90)" x="0" y="0" font-size="33" text-anchor="middle" font-weight="normal" font-family='"Liberation Serif", serif' stroke="#000" stroke-width="1" textLength="402" lengthAdjust="spacingAndGlyphs">Steric height anomaly (mm)</text>
<line x1="232.9" y1="1221" x2="232.9" y2="1710" stroke="#f0f0f0" stroke-width="1"/>
<line x1="358.8" y1="1221" x2="358.8" y2="1710" stroke="#f0f0f0" stroke-width="1"/>
<line x1="484.7" y1="1221" x2="484.7" y2="1710" stroke="#f0f0f0" stroke-width="1"/>
<line x1="610.6" y1="1221" x2="610.6" y2="1710" stroke="#f0f0f0" stroke-width="1"/>
<line x1="736.5" y1="1221" x2="736.5" y2="1710" stroke="#f0f0f0" stroke-width="1"/>
<line x1="862.4" y1="1221" x2="862.4" y2="1710" stroke="#f0f0f0" stroke-width="1"/>
<line x1="988.3" y1="1221" x2="988.3" y2="1710" stroke="#f0f0f0" stroke-width="1"/>
<line x1="1114.2" y1="1221" x2="1114.2" y2="1710" stroke="#f0f0f0" stroke-width="1"/>
<line x1="1240.1" y1="1221" x2="1240.1" y2="1710" stroke="#f0f0f0" stroke-width="1"/>
<line x1="107" y1="1612.2" x2="1366" y2="1612.2" stroke="#f0f0f0" stroke-width="1"/>
<line x1="107" y1="1514.4" x2="1366" y2="1514.4" stroke="#f0f0f0" stroke-width="1"/>
<line x1="107" y1="1416.6" x2="1366" y2="1416.6" stroke="#f0f0f0" stroke-width="1"/>
<line x1="107" y1="1318.8" x2="1366" y2="1318.8" stroke="#f0f0f0" stroke-width="1"/>
<rect x="107" y="1221" width="1259" height="489" fill="none" stroke="#777777" stroke-width="1.8"/>
<line x1="107" y1="1710" x2="107" y2="1697.4" stroke="#777777" stroke-width="1.5"/>
<line x1="107" y1="1221" x2="107" y2="1233.6" stroke="#777777" stroke-width="1.5"/>
<text x="107" y="1749.5" font-size="29" text-anchor="middle" font-weight="normal" font-family='"Liberation Serif", serif' stroke="#000" stroke-width="1">-5</text>
<line x1="232.9" y1="1710" x2="232.9" y2="1697.4" stroke="#777777" stroke-width="1.5"/>
<line x1="232.9" y1="1221" x2="232.9" y2="1233.6" stroke="#777777" stroke-width="1.5"/>
<text x="232.9" y="1749.5" font-size="29" text-anchor="middle" font-weight="normal" font-family='"Liberation Serif", serif' stroke="#000" stroke-width="1">-4</text>
<line x1="358.8" y1="1710" x2="358.8" y2="1697.4" stroke="#777777" stroke-width="1.5"/>
<line x1="358.8" y1="1221" x2="358.8" y2="1233.6" stroke="#777777" stroke-width="1.5"/>
<text x="358.8" y="1749.5" font-size="29" text-anchor="middle" font-weight="normal" font-family='"Liberation Serif", serif' stroke="#000" stroke-width="1">-3</text>
<line x1="484.7" y1="1710" x2="484.7" y2="1697.4" stroke="#777777" stroke-width="1.5"/>
<line x1="484.7" y1="1221" x2="484.7" y2="1233.6" stroke="#777777" stroke-width="1.5"/>
<text x="484.7" y="1749.5" font-size="29" text-anchor="middle" font-weight="normal" font-family='"Liberation Serif", serif' stroke="#000" stroke-width="1">-2</text>
<line x1="610.6" y1="1710" x2="610.6" y2="1697.4" stroke="#777777" stroke-width="1.5"/>
<line x1="610.6" y1="1221" x2="610.6" y2="1233.6" stroke="#777777" stroke-width="1.5"/>
<text x="610.6" y="1749.5" font-size="29" text-anchor="middle" font-weight="normal" font-family='"Liberation Serif", serif' stroke="#000" stroke-width="1">-1</text>
<line x1="736.5" y1="1710" x2="736.5" y2="1697.4" stroke="#777777" stroke-width="1.5"/>
<line x1="736.5" y1="1221" x2="736.5" y2="1233.6" stroke="#777777" stroke-width="1.5"/>
<text x="736.5" y="1749.5" font-size="29" text-anchor="middle" font-weight="normal" font-family='"Liberation Serif", serif' stroke="#000" stroke-width="1">0</text>
<line x1="862.4" y1="1710" x2="862.4" y2="1697.4" stroke="#777777" stroke-width="1.5"/>
<line x1="862.4" y1="1221" x2="862.4" y2="1233.6" stroke="#777777" stroke-width="1.5"/>
<text x="862.4" y="1749.5" font-size="29" text-anchor="middle" font-weight="normal" font-family='"Liberation Serif", serif' stroke="#000" stroke-width="1">1</text>
<line x1="988.3" y1="1710" x2="988.3" y2="1697.4" stroke="#777777" stroke-width="1.5"/>
<line x1="988.3" y1="1221" x2="988.3" y2="1233.6" stroke="#777777" stroke-width="1.5"/>
<text x="988.3" y="1749.5" font-size="29" text-anchor="middle" font-weight="normal" font-family='"Liberation Serif", serif' stroke="#000" stroke-width="1">2</text>
<line x1="1114.2" y1="1710" x2="1114.2" y2="1697.4" stroke="#777777" stroke-width="1.5"/>
<line x1="1114.2" y1="1221" x2="1114.2" y2="1233.6" stroke="#777777" stroke-width="1.5"/>
<text x="1114.2" y="1749.5" font-size="29" text-anchor="middle" font-weight="normal" font-family='"Liberation Serif", serif' stroke="#000" stroke-width="1">3</text>
<line x1="1240.1" y1="1710" x2="1240.1" y2="1697.4" stroke="#777777" stroke-width="1.5"/>
<line x1="1240.1" y1="1221" x2="1240.1" y2="1233.6" stroke="#777777" stroke-width="1.5"/>
<text x="1240.1" y="1749.5" font-size="29" text-anchor="middle" font-weight="normal" font-family='"Liberation Serif", serif' stroke="#000" stroke-width="1">4</text>
<line x1="1366" y1="1710" x2="1366" y2="1697.4" stroke="#777777" stroke-width="1.5"/>
<line x1="1366" y1="1221" x2="1366" y2="1233.6" stroke="#777777" stroke-width="1.5"/>
<text x="1366" y="1749.5" font-size="29" text-anchor="middle" font-weight="normal" font-family='"Liberation Serif", serif' stroke="#000" stroke-width="1">5</text>
<line x1="107" y1="1710" x2="119.6" y2="1710" stroke="#777777" stroke-width="1.5"/>
<line x1="1366" y1="1710" x2="1353.4" y2="1710" stroke="#777777" stroke-width="1.5"/>
<text x="96" y="1717.5" font-size="29" text-anchor="end" font-weight="normal" font-family='"Liberation Serif", serif' stroke="#000" stroke-width="1">580</text>
<line x1="107" y1="1612.2" x2="119.6" y2="1612.2" stroke="#777777" stroke-width="1.5"/>
<line x1="1366" y1="1612.2" x2="1353.4" y2="1612.2" stroke="#777777" stroke-width="1.5"/>
<text x="96" y="1619.7" font-size="29" text-anchor="end" font-weight="normal" font-family='"Liberation Serif", serif' stroke="#000" stroke-width="1">600</text>
<line x1="107" y1="1514.4" x2="119.6" y2="1514.4" stroke="#777777" stroke-width="1.5"/>
<line x1="1366" y1="1514.4" x2="1353.4" y2="1514.4" stroke="#777777" stroke-width="1.5"/>
<text x="96" y="1521.9" font-size="29" text-anchor="end" font-weight="normal" font-family='"Liberation Serif", serif' stroke="#000" stroke-width="1">620</text>
<line x1="107" y1="1416.6" x2="119.6" y2="1416.6" stroke="#777777" stroke-width="1.5"/>
<line x1="1366" y1="1416.6" x2="1353.4" y2="1416.6" stroke="#777777" stroke-width="1.5"/>
<text x="96" y="1424.1" font-size="29" text-anchor="end" font-weight="normal" font-family='"Liberation Serif", serif' stroke="#000" stroke-width="1">640</text>
<line x1="107" y1="1318.8" x2="119.6" y2="1318.8" stroke="#777777" stroke-width="1.5"/>
<line x1="1366" y1="1318.8" x2="1353.4" y2="1318.8" stroke="#777777" stroke-width="1.5"/>
<text x="96" y="1326.3" font-size="29" text-anchor="end" font-weight="normal" font-family='"Liberation Serif", serif' stroke="#000" stroke-width="1">660</text>
<line x1="107" y1="1221" x2="119.6" y2="1221" stroke="#777777" stroke-width="1.5"/>
<line x1="1366" y1="1221" x2="1353.4" y2="1221" stroke="#777777" stroke-width="1.5"/>
<text x="96" y="1228.5" font-size="29" text-anchor="end" font-weight="normal" font-family='"Liberation Serif", serif' stroke="#000" stroke-width="1">680</text>
<g stroke="#f0540f" fill="none"><polyline points="107,1472.59 232.9,1467.06 358.8,1461.54 484.7,1456.01 610.6,1450.49 736.5,1444.96 862.4,1439.44 988.3,1433.91 1114.2,1428.38 1240.1,1422.86 1366,1417.33" stroke-width="3.4"/>
<circle cx="107" cy="1472.59" r="5.6" stroke-width="3.8"/>
<circle cx="232.9" cy="1467.06" r="5.6" stroke-width="3.8"/>
<circle cx="358.8" cy="1461.54" r="5.6" stroke-width="3.8"/>
<circle cx="484.7" cy="1456.01" r="5.6" stroke-width="3.8"/>
<circle cx="610.6" cy="1450.49" r="5.6" stroke-width="3.8"/>
<circle cx="736.5" cy="1444.96" r="5.6" stroke-width="3.8"/>
<circle cx="862.4" cy="1439.44" r="5.6" stroke-width="3.8"/>
<circle cx="988.3" cy="1433.91" r="5.6" stroke-width="3.8"/>
<circle cx="1114.2" cy="1428.38" r="5.6" stroke-width="3.8"/>
<circle cx="1240.1" cy="1422.86" r="5.6" stroke-width="3.8"/>
<circle cx="1366" cy="1417.33" r="5.6" stroke-width="3.8"/>
</g>
<g stroke="#f414f4" fill="none"><polyline points="107,1603.64 232.9,1571.91 358.8,1540.17 484.7,1508.43 610.6,1476.7 736.5,1444.96 862.4,1413.23 988.3,1381.49 1114.2,1349.75 1240.1,1318.02 1366,1286.28" stroke-width="3.4"/>
<circle cx="107" cy="1603.64" r="5.6" stroke-width="3.8"/>
<circle cx="232.9" cy="1571.91" r="5.6" stroke-width="3.8"/>
<circle cx="358.8" cy="1540.17" r="5.6" stroke-width="3.8"/>
<circle cx="484.7" cy="1508.43" r="5.6" stroke-width="3.8"/>
<circle cx="610.6" cy="1476.7" r="5.6" stroke-width="3.8"/>
<circle cx="736.5" cy="1444.96" r="5.6" stroke-width="3.8"/>
<circle cx="862.4" cy="1413.23" r="5.6" stroke-width="3.8"/>
<circle cx="988.3" cy="1381.49" r="5.6" stroke-width="3.8"/>
<circle cx="1114.2" cy="1349.75" r="5.6" stroke-width="3.8"/>
<circle cx="1240.1" cy="1318.02" r="5.6" stroke-width="3.8"/>
<circle cx="1366" cy="1286.28" r="5.6" stroke-width="3.8"/>
</g>
<g stroke="#0000ee" fill="none"><polyline points="107,1631.27 232.9,1593.86 358.8,1556.45 484.7,1519.05 610.6,1481.64 736.5,1444.23 862.4,1406.82 988.3,1369.41 1114.2,1332 1240.1,1294.59 1366,1257.19" stroke-width="3.4"/>
<circle cx="107" cy="1631.27" r="5.6" stroke-width="3.8"/>
<circle cx="232.9" cy="1593.86" r="5.6" stroke-width="3.8"/>
<circle cx="358.8" cy="1556.45" r="5.6" stroke-width="3.8"/>
<circle cx="484.7" cy="1519.05" r="5.6" stroke-width="3.8"/>
<circle cx="610.6" cy="1481.64" r="5.6" stroke-width="3.8"/>
<circle cx="736.5" cy="1444.23" r="5.6" stroke-width="3.8"/>
<circle cx="862.4" cy="1406.82" r="5.6" stroke-width="3.8"/>
<circle cx="988.3" cy="1369.41" r="5.6" stroke-width="3.8"/>
<circle cx="1114.2" cy="1332" r="5.6" stroke-width="3.8"/>
<circle cx="1240.1" cy="1294.59" r="5.6" stroke-width="3.8"/>
<circle cx="1366" cy="1257.19" r="5.6" stroke-width="3.8"/>
</g>
<text x="120" y="1255.5" font-size="29" text-anchor="start" font-weight="bold" font-family='"Liberation Sans", sans-serif' stroke="#000" stroke-width="0.6">E</text>
<text x="738" y="1795.5" font-size="33" text-anchor="middle" font-weight="normal" font-family='"Liberation Serif", serif' stroke="#000" stroke-width="1" textLength="67" lengthAdjust="spacingAndGlyphs">Year</text>
<text transform="translate(27.5,1465.5) rotate(-90)" x="0" y="0" font-size="33" text-anchor="middle" font-weight="normal" font-family='"Liberation Serif", serif' stroke="#000" stroke-width="1" textLength="228" lengthAdjust="spacingAndGlyphs">Sea level (mm)</text>
<rect x="860" y="1487" width="488.5" height="205.5" fill="#fff" stroke="#555" stroke-width="1.6"/>
<line x1="866" y1="1522.9" x2="927" y2="1522.9" stroke="#f0540f" stroke-width="3.4"/>
<circle cx="896" cy="1522.9" r="6" stroke="#f0540f" stroke-width="3.2" fill="none"/>
<text x="932" y="1530" font-size="32" text-anchor="start" font-weight="normal" font-family='"Liberation Serif", serif' textLength="56" lengthAdjust="spacingAndGlyphs" stroke="#000" stroke-width="0.4" font-style="italic">SLR</text>
<text x="990" y="1544.4" font-size="26" text-anchor="start" font-weight="normal" font-family='"Liberation Serif", serif' textLength="153" lengthAdjust="spacingAndGlyphs" stroke="#000" stroke-width="0.9" font-style="italic">duration-only</text>
<text x="1150" y="1530" font-size="32" text-anchor="start" font-weight="normal" font-family='"Liberation Serif", serif' textLength="170" lengthAdjust="spacingAndGlyphs" stroke="#000" stroke-width="0.4">: 1.13 mm yr</text>
<text x="1320" y="1514" font-size="21" text-anchor="start" font-weight="normal" font-family='"Liberation Serif", serif' stroke="#000" stroke-width="0.3">-1</text>
<line x1="866" y1="1590.9" x2="927" y2="1590.9" stroke="#f414f4" stroke-width="3.4"/>
<circle cx="896" cy="1590.9" r="6" stroke="#f414f4" stroke-width="3.2" fill="none"/>
<text x="932" y="1598" font-size="32" text-anchor="start" font-weight="normal" font-family='"Liberation Serif", serif' textLength="56" lengthAdjust="spacingAndGlyphs" stroke="#000" stroke-width="0.4" font-style="italic">SLR</text>
<text x="990" y="1612.4" font-size="26" text-anchor="start" font-weight="normal" font-family='"Liberation Serif", serif' textLength="102" lengthAdjust="spacingAndGlyphs" stroke="#000" stroke-width="0.9" font-style="italic">SLR-only</text>
<text x="1100" y="1598" font-size="32" text-anchor="start" font-weight="normal" font-family='"Liberation Serif", serif' textLength="170" lengthAdjust="spacingAndGlyphs" stroke="#000" stroke-width="0.4">: 6.49 mm yr</text>
<text x="1271" y="1582" font-size="21" text-anchor="start" font-weight="normal" font-family='"Liberation Serif", serif' stroke="#000" stroke-width="0.3">-1</text>
<line x1="866" y1="1657.8" x2="927" y2="1657.8" stroke="#0000ee" stroke-width="3.4"/>
<circle cx="896" cy="1657.8" r="6" stroke="#0000ee" stroke-width="3.2" fill="none"/>
<text x="932" y="1664.9" font-size="32" text-anchor="start" font-weight="normal" font-family='"Liberation Serif", serif' textLength="56" lengthAdjust="spacingAndGlyphs" stroke="#000" stroke-width="0.4" font-style="italic">SLR</text>
<text x="990" y="1679.3" font-size="26" text-anchor="start" font-weight="normal" font-family='"Liberation Serif", serif' textLength="52" lengthAdjust="spacingAndGlyphs" stroke="#000" stroke-width="0.9" font-style="italic">total</text>
<text x="1050" y="1664.9" font-size="32" text-anchor="start" font-weight="normal" font-family='"Liberation Serif", serif' textLength="170" lengthAdjust="spacingAndGlyphs" stroke="#000" stroke-width="0.4">: 7.62 mm yr</text>
<text x="1221" y="1648.9" font-size="21" text-anchor="start" font-weight="normal" font-family='"Liberation Serif", serif' stroke="#000" stroke-width="0.3">-1</text>
</svg></body></html>
